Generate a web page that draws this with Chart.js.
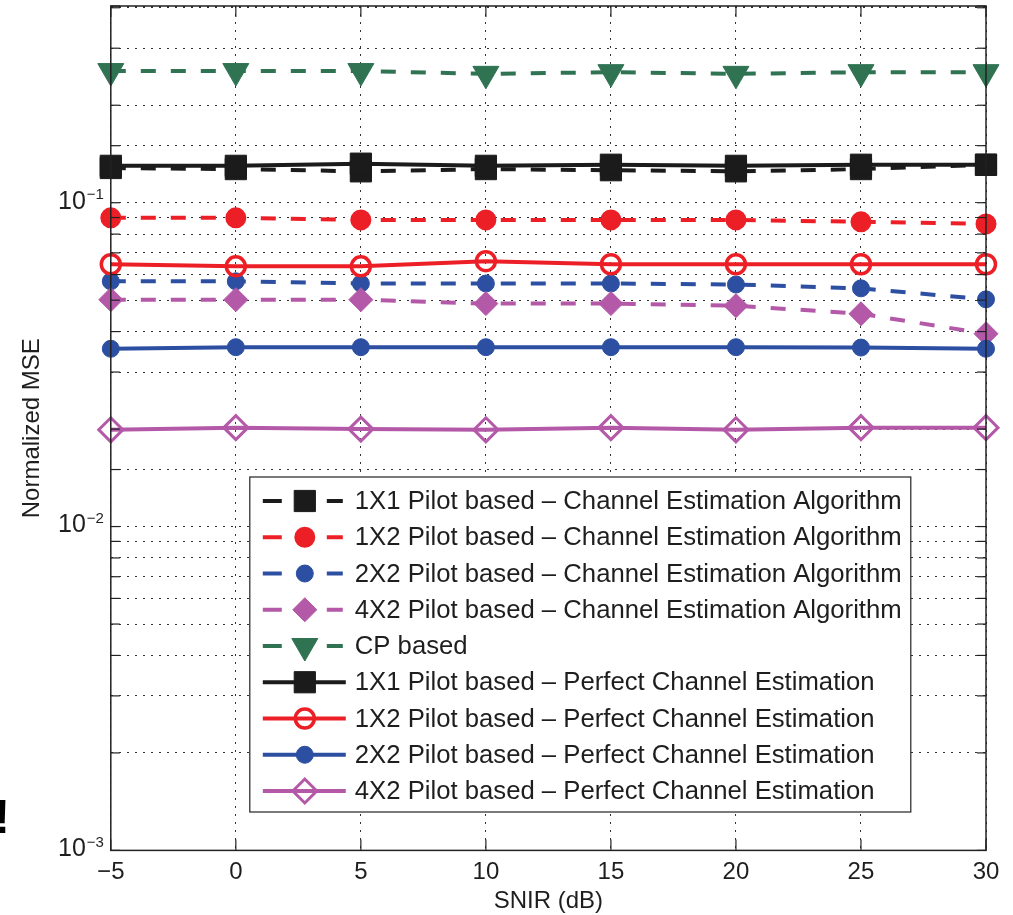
<!DOCTYPE html>
<html>
<head>
<meta charset="utf-8">
<title>Normalized MSE vs SNIR</title>
<script src="https://cdn.jsdelivr.net/npm/chart.js@4.4.1/dist/chart.umd.min.js"></script>
<style>
  html, body { margin: 0; padding: 0; background: #fff; }
  canvas { display: block; }
</style>
</head>
<body>
<canvas id="mseChart" width="1013" height="915"></canvas>
<script>
// === DATA ===
const snir = [-5, 0, 5, 10, 15, 20, 25, 30];

const est1x1  = [0.128, 0.127, 0.125, 0.127, 0.126, 0.125, 0.127, 0.131];
const est1x2  = [0.0898, 0.0898, 0.0885, 0.0885, 0.0885, 0.0885, 0.0873, 0.086];
const est2x2  = [0.0572, 0.0572, 0.0563, 0.0563, 0.0563, 0.0559, 0.0544, 0.0503];
const est4x2  = [0.0502, 0.0502, 0.0502, 0.0488, 0.0488, 0.0481, 0.0454, 0.0394];
const cpBased = [0.255, 0.255, 0.255, 0.25, 0.253, 0.25, 0.253, 0.253];
const perf1x1 = [0.130, 0.130, 0.132, 0.130, 0.131, 0.130, 0.131, 0.131];
const perf1x2 = [0.0646, 0.0636, 0.0636, 0.066, 0.0646, 0.0646, 0.0646, 0.0646];
const perf2x2 = [0.0354, 0.0358, 0.0358, 0.0358, 0.0358, 0.0358, 0.0357, 0.0354];
const perf4x2 = [0.0199, 0.0202, 0.0200, 0.0199, 0.0202, 0.0199, 0.0202, 0.0202];

const seriesLabels = [
  "1X1 Pilot based \u2013 Channel Estimation Algorithm",
  "1X2 Pilot based \u2013 Channel Estimation Algorithm",
  "2X2 Pilot based \u2013 Channel Estimation Algorithm",
  "4X2 Pilot based \u2013 Channel Estimation Algorithm",
  "CP based",
  "1X1 Pilot based \u2013 Perfect Channel Estimation",
  "1X2 Pilot based \u2013 Perfect Channel Estimation",
  "2X2 Pilot based \u2013 Perfect Channel Estimation",
  "4X2 Pilot based \u2013 Perfect Channel Estimation"
];

const yTickValues = [0.001, 0.01, 0.1];
const yTickExponents = ["\u22123", "\u22122", "\u22121"];

// === STYLE ===
const FONT = "'Liberation Sans', Arial, Helvetica, sans-serif";
const TEXT = "#1e1e1e";
const BLACK = "#1b1b1b", RED = "#ec1f27", BLUE = "#2c4fa2", PINK = "#b458a8", GREEN = "#2f7352";
const NONE = "rgba(0,0,0,0)";

const series = [
  { data: est1x1,  color: BLACK, dash: true,  shape: "rect",     radius: 15,  fill: BLACK, border: 1 },
  { data: est1x2,  color: RED,   dash: true,  shape: "circle",   radius: 9,   fill: RED,   border: 3 },
  { data: est2x2,  color: BLUE,  dash: true,  shape: "circle",   radius: 8.5, fill: BLUE,  border: 1 },
  { data: est4x2,  color: PINK,  dash: true,  shape: "rectRot",  radius: 12,  fill: PINK,  border: 1 },
  { data: cpBased, color: GREEN, dash: true,  shape: "triangle", radius: 15,  fill: GREEN, border: 1, rotation: 180 },
  { data: perf1x1, color: BLACK, dash: false, shape: "rect",     radius: 15,  fill: BLACK, border: 1 },
  { data: perf1x2, color: RED,   dash: false, shape: "circle",   radius: 9.5, fill: NONE,  border: 3.5 },
  { data: perf2x2, color: BLUE,  dash: false, shape: "circle",   radius: 8.5, fill: BLUE,  border: 1 },
  { data: perf4x2, color: PINK,  dash: false, shape: "rectRot",  radius: 12,  fill: NONE,  border: 3 }
];

Chart.defaults.font.family = FONT;
Chart.defaults.color = TEXT;

// marker shapes for the legend, same geometry as chart.js point styles
function drawMarker(ctx, s, x, y) {
  const r = s.radius;
  ctx.save();
  ctx.fillStyle = s.fill;
  ctx.strokeStyle = s.color;
  ctx.lineWidth = s.border;
  ctx.setLineDash([]);
  ctx.beginPath();
  if (s.shape === "circle") {
    ctx.arc(x, y, r, 0, Math.PI * 2);
  } else if (s.shape === "rect") {
    const h = r * Math.SQRT1_2;
    ctx.rect(x - h, y - h, 2 * h, 2 * h);
  } else if (s.shape === "rectRot") {
    ctx.moveTo(x - r, y); ctx.lineTo(x, y - r); ctx.lineTo(x + r, y); ctx.lineTo(x, y + r);
    ctx.closePath();
  } else if (s.shape === "triangle") {
    let rad = (s.rotation || 0) * Math.PI / 180;
    ctx.moveTo(x + Math.sin(rad) * r, y - Math.cos(rad) * r);
    rad += Math.PI * 2 / 3;
    ctx.lineTo(x + Math.sin(rad) * r, y - Math.cos(rad) * r);
    rad += Math.PI * 2 / 3;
    ctx.lineTo(x + Math.sin(rad) * r, y - Math.cos(rad) * r);
    ctx.closePath();
  }
  ctx.fill();
  ctx.stroke();
  ctx.restore();
}

// box, inner ticks, y labels and legend in matlab style
const matlabFrame = {
  id: "matlabFrame",
  afterDatasetsDraw(chart) {
    const { ctx, chartArea: a, scales: { x, y } } = chart;
    const line = (x1, y1, x2, y2) => { ctx.beginPath(); ctx.moveTo(x1, y1); ctx.lineTo(x2, y2); ctx.stroke(); };
    ctx.save();

    ctx.strokeStyle = "#222";
    ctx.lineWidth = 1.2;
    x.ticks.forEach(t => {
      const px = x.getPixelForValue(t.value);
      line(px, a.bottom, px, a.bottom - 11);
      line(px, a.top, px, a.top + 11);
    });
    y.ticks.forEach(t => {
      const py = y.getPixelForValue(t.value);
      line(a.left, py, a.left + 9, py);
      line(a.right, py, a.right - 9, py);
    });
    ctx.lineWidth = 1.5;
    ctx.strokeRect(a.left, a.top, a.right - a.left, a.bottom - a.top);

    // y tick labels 10^n
    ctx.fillStyle = TEXT;
    ctx.textBaseline = "middle";
    yTickValues.forEach((v, i) => {
      const py = y.getPixelForValue(v);
      const xb = a.left - 25;
      ctx.font = "25px " + FONT;
      ctx.textAlign = "right";
      ctx.fillText("10", xb, py - 1);
      ctx.font = "15px " + FONT;
      ctx.textAlign = "left";
      ctx.fillText(yTickExponents[i], xb + 1, py - 8);
    });

    // legend
    const lx = a.left + 139, ly = a.top + 471, lw = 661, lh = 335;
    ctx.fillStyle = "#fff";
    ctx.fillRect(lx, ly, lw, lh);
    ctx.strokeStyle = "#222";
    ctx.lineWidth = 1.2;
    ctx.strokeRect(lx, ly, lw, lh);
    series.forEach((s, i) => {
      const cy = ly + 24 + i * 36.25;
      ctx.strokeStyle = s.color;
      ctx.lineWidth = 4;
      if (s.dash) {
        line(lx + 13, cy, lx + 32, cy);
        line(lx + 77, cy, lx + 93, cy);
      } else {
        line(lx + 13, cy, lx + 96, cy);
      }
      drawMarker(ctx, s, lx + 55, cy);
      ctx.fillStyle = TEXT;
      ctx.font = "25.7px " + FONT;
      ctx.textAlign = "left";
      ctx.textBaseline = "middle";
      ctx.fillText(seriesLabels[i], lx + 105, cy + 1);
    });

    // clipped glyph at the left edge of the original figure
    ctx.font = "bold 48px " + FONT;
    ctx.textBaseline = "alphabetic";
    ctx.fillStyle = "#000";
    ctx.fillText("!", -6, 833);

    ctx.restore();
  }
};

const datasets = series.map((s, i) => ({
  label: seriesLabels[i],
  data: snir.map((v, j) => ({ x: v, y: s.data[j] })),
  borderColor: s.color,
  borderWidth: 4,
  borderDash: s.dash ? [15, 15] : [],
  pointStyle: s.shape,
  pointRadius: s.radius,
  pointRotation: s.rotation || 0,
  pointBackgroundColor: s.fill,
  pointBorderColor: s.color,
  pointBorderWidth: s.border,
  tension: 0,
  clip: false,
  order: series.length - i
}));

const gridStyle = { color: "#333", lineWidth: 1, drawTicks: false };

new Chart(document.getElementById("mseChart"), {
  type: "line",
  data: { datasets },
  options: {
    responsive: false,
    animation: false,
    events: [],
    layout: { autoPadding: false, padding: { left: 10, right: 27, top: 6, bottom: 0 } },
    plugins: { legend: { display: false }, tooltip: { enabled: false } },
    scales: {
      x: {
        type: "linear",
        min: -5,
        max: 30,
        ticks: {
          stepSize: 5,
          padding: 8,
          color: TEXT,
          font: { size: 24 },
          callback: v => String(v).replace("-", "\u2212")
        },
        grid: gridStyle,
        border: { display: false, dash: [2, 6] },
        title: { display: true, text: "SNIR (dB)", color: TEXT, font: { size: 24 }, padding: { top: -8, bottom: -1 } }
      },
      y: {
        type: "logarithmic",
        min: 0.001,
        max: 0.405,
        ticks: { display: false, autoSkip: false },
        grid: gridStyle,
        border: { display: false, dash: [2, 6] },
        title: { display: true, text: "Normalized MSE", color: TEXT, font: { size: 24 }, padding: { top: 8, bottom: 64 } }
      }
    }
  },
  plugins: [matlabFrame]
});
</script>
</body>
</html>
